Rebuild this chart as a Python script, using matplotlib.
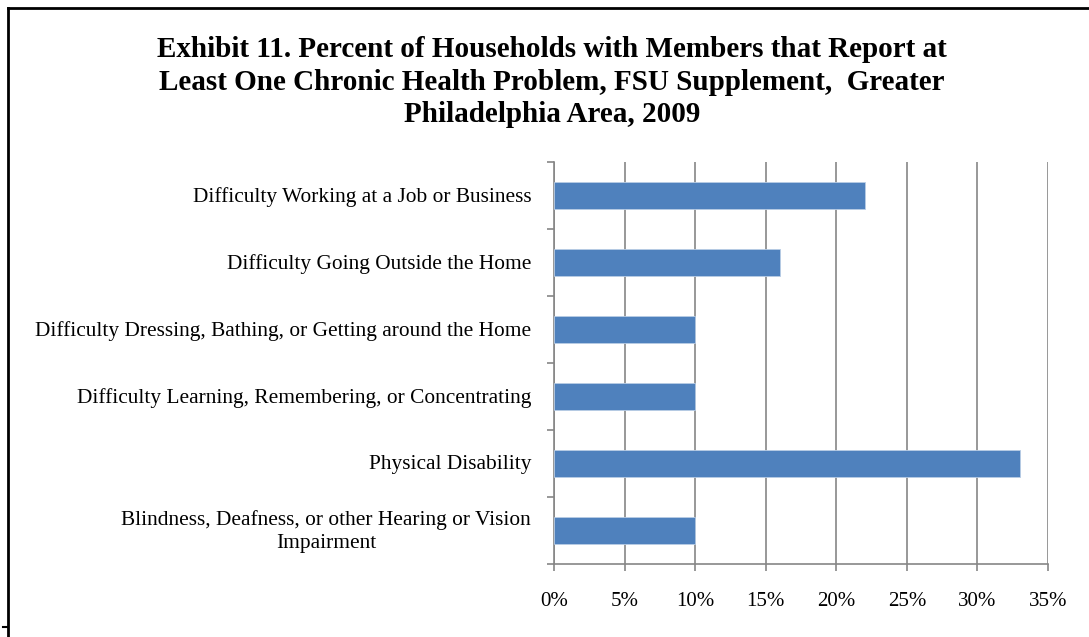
import matplotlib
matplotlib.use("Agg")
import matplotlib.pyplot as plt
from matplotlib.lines import Line2D
from matplotlib.ticker import FuncFormatter, FixedLocator
from matplotlib.transforms import offset_copy

# Survey results (bottom to top as plotted)
categories = [
    "Blindness, Deafness, or other Hearing or Vision\nImpairment",
    "Physical Disability",
    "Difficulty Learning, Remembering, or Concentrating",
    "Difficulty Dressing, Bathing, or Getting around the Home",
    "Difficulty Going Outside the Home",
    "Difficulty Working at a Job or Business",
]
percent = [10, 33, 10, 10, 16, 22]
x_ticks = [0, 5, 10, 15, 20, 25, 30, 35]

title = ("Exhibit 11. Percent of Households with Members that Report at\n"
         "Least One Chronic Health Problem, FSU Supplement,  Greater\n"
         "Philadelphia Area, 2009")

plt.rcParams["font.family"] = ["Liberation Serif", "DejaVu Serif"]

fig = plt.figure(figsize=(10.89, 6.37), dpi=100)
ax = fig.add_axes([0.5087, 0.1146, 0.4537, 0.6311])

bar_color = "#4F81BD"
grid_color = "#868686"

ypos = list(range(len(categories)))
ax.barh(ypos, percent, height=0.4, color=bar_color, edgecolor="#B9CDE5",
        linewidth=0.6, zorder=3)

ax.set_xlim(0, 35)
ax.set_ylim(-0.5, len(categories) - 0.5)
ax.xaxis.set_major_locator(FixedLocator(x_ticks))
ax.xaxis.set_major_formatter(FuncFormatter(lambda v, p: f"{v:.0f}%"))
ax.grid(axis="x", color=grid_color, linewidth=1.2, zorder=0)

# category labels at bar centres, tick marks at the category boundaries
ax.set_yticks([])
label_tf = offset_copy(ax.get_yaxis_transform(), fig=fig, x=0, y=-1.5,
                       units="dots")
for y, lab in zip(ypos, categories):
    ax.text(-0.046, y, lab, transform=label_tf,
            ha="right", va="center", multialignment="center",
            fontsize=15.4, color="black", linespacing=1.28)
ax.set_yticks([i - 0.5 for i in range(len(categories) + 1)], minor=True)
ax.tick_params(axis="y", which="minor", length=5, width=1.2, color=grid_color,
               direction="out", labelleft=False)
ax.tick_params(axis="x", length=5, width=1.2, color=grid_color,
               direction="out", labelsize=15, pad=15)

for side in ("top", "right"):
    ax.spines[side].set_visible(False)
for side in ("left", "bottom"):
    ax.spines[side].set_color(grid_color)
    ax.spines[side].set_linewidth(1.2)

fig.text(0.507, 1 - 82 / 637, title, ha="center", va="center", fontsize=21,
         fontweight="bold", linespacing=1.28)

# outer frame (left and top edges)
fig.add_artist(Line2D([8 / 1089, 8 / 1089], [0, 1 - 8 / 637],
                      transform=fig.transFigure, color="black", linewidth=2))
fig.add_artist(Line2D([8 / 1089, 1], [1 - 8 / 637, 1 - 8 / 637],
                      transform=fig.transFigure, color="black", linewidth=2))
fig.add_artist(Line2D([3 / 1089, 8 / 1089], [1 - 627 / 637, 1 - 627 / 637],
                      transform=fig.transFigure, color="black", linewidth=1.5))

fig.savefig("out.png", dpi=100, facecolor="white")
